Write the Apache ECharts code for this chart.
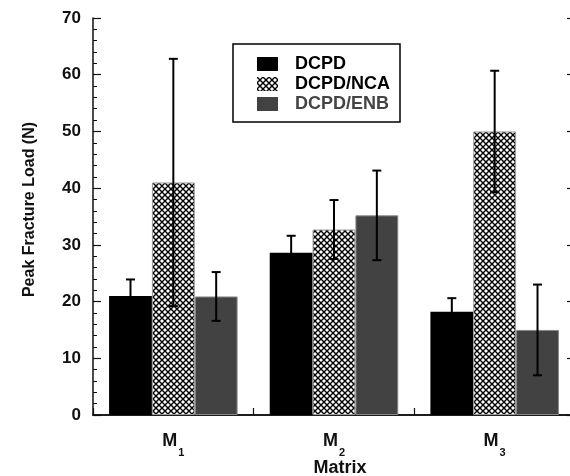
<!DOCTYPE html>
<html><head><meta charset="utf-8">
<script src="https://cdn.jsdelivr.net/npm/echarts@6/dist/echarts.min.js"></script>
<style>html,body{margin:0;padding:0;background:#fff;overflow:hidden}#c{width:570px;height:476px}</style>
</head><body><div id="c"></div>
<script>
// ---- data ----
const categorySubs = ['1', '2', '3'];            // M1, M2, M3
const seriesNames = ['DCPD', 'DCPD/NCA', 'DCPD/ENB'];
const dcpd    = [21.0, 28.6, 18.2];
const dcpdErr = [2.9, 3.0, 2.4];
const nca     = [41.0, 32.7, 50.0];
const ncaErr  = [21.8, 5.2, 10.7];
const enb     = [20.9, 35.2, 15.0];
const enbErr  = [4.3, 7.9, 8.0];
const yMin = 0, yMax = 70, yStep = 10;

// ---- style helpers ----
function hatch() {
  const c = document.createElement('canvas');
  c.width = 6; c.height = 6;
  const g = c.getContext('2d');
  g.fillStyle = '#fff'; g.fillRect(0, 0, 6, 6);
  g.strokeStyle = '#000'; g.lineWidth = 1.4;
  g.beginPath();
  g.moveTo(-1, -1); g.lineTo(7, 7);
  g.moveTo(7, -1); g.lineTo(-1, 7);
  g.stroke();
  return c;
}
const pattern = { image: hatch(), repeat: 'repeat' };
const gapFrac = 0.2;
const FONT = '"Liberation Sans", Arial, sans-serif';

const values = [dcpd, nca, enb];
const errs = [dcpdErr, ncaErr, enbErr];
const errData = [];
values.forEach((vals, s) => vals.forEach((v, i) => errData.push([i, v - errs[s][i], v + errs[s][i], s])));

const chart = echarts.init(document.getElementById('c'), null, { renderer: 'canvas' });
const yAxisBase = {
  type: 'value', min: yMin, max: yMax, interval: yStep,
  splitLine: { show: false },
  axisLine: { show: true, lineStyle: { color: '#111', width: 1.5 } },
  axisTick: { show: true, inside: true, length: 8, lineStyle: { color: '#111', width: 1.2 } },
  minorTick: { show: true, splitNumber: 5, length: 4, lineStyle: { color: '#111', width: 1 } },
  minorSplitLine: { show: false }
};
chart.setOption({
  animation: false,
  backgroundColor: '#fff',
  grid: { left: 93, top: 18, width: 482, height: 397, containLabel: false, outerBoundsMode: 'none' },
  legend: {
    left: 233, top: 44, orient: 'vertical',
    padding: [11, 10, 9, 24],
    icon: 'rect',
    itemWidth: 21, itemHeight: 14, itemGap: 2,
    borderColor: '#000', borderWidth: 1.5,
    itemStyle: { borderWidth: 0 },
    textStyle: { fontFamily: FONT, fontSize: 18, fontWeight: 'bold', color: '#000', padding: [0, 0, 0, 12] },
    data: [
      { name: seriesNames[0] },
      { name: seriesNames[1] },
      { name: seriesNames[2], textStyle: { color: '#444' } }
    ]
  },
  xAxis: [{
    type: 'category', data: categorySubs, position: 'bottom',
    name: 'Matrix', nameLocation: 'middle', nameGap: 44, nameMoveOverlap: false,
    nameTextStyle: { fontFamily: FONT, fontSize: 18, fontWeight: 'bold', color: '#111', padding: [0, 0, 0, 12] },
    axisLine: { lineStyle: { color: '#111', width: 1.5 } },
    axisTick: { show: true, inside: true, length: 7, alignWithLabel: false, lineStyle: { color: '#111', width: 1.2 } },
    axisLabel: {
      margin: 9,
      formatter: v => '{m|M}{s|' + v + '}',
      rich: {
        m: { fontFamily: FONT, fontSize: 18, fontWeight: 'bold', color: '#111', verticalAlign: 'middle', lineHeight: 34 },
        s: { fontFamily: FONT, fontSize: 11, fontWeight: 'bold', color: '#111', verticalAlign: 'bottom', lineHeight: 11, padding: [0, 0, 0, 1] }
      }
    }
  }, {
    type: 'category', data: categorySubs, position: 'top',
    axisLine: { show: true, lineStyle: { color: '#111', width: 1.5 } },
    axisTick: { show: false }, axisLabel: { show: false }
  }],
  yAxis: [Object.assign({}, yAxisBase, {
    position: 'left',
    name: 'Peak Fracture Load (N)', nameLocation: 'middle', nameGap: 55,
    nameTextStyle: { fontFamily: FONT, fontSize: 16, fontWeight: 'bold', color: '#111', padding: [0, 0, 0, 14] },
    axisLabel: { fontFamily: FONT, fontSize: 17, fontWeight: 'bold', color: '#111', margin: 12 }
  }), Object.assign({}, yAxisBase, {
    position: 'right', axisLabel: { show: false }
  })],
  series: [
    { name: seriesNames[0], type: 'bar', data: dcpd, barGap: '0%', barCategoryGap: (gapFrac * 100) + '%',
      itemStyle: { color: '#000' } },
    { name: seriesNames[1], type: 'bar', data: nca, barGap: '0%', barCategoryGap: (gapFrac * 100) + '%',
      itemStyle: { color: pattern, borderColor: '#999', borderWidth: 1 } },
    { name: seriesNames[2], type: 'bar', data: enb, barGap: '0%', barCategoryGap: (gapFrac * 100) + '%',
      itemStyle: { color: '#424242', borderColor: '#888', borderWidth: 1 } },
    { type: 'custom', data: errData, z: 10,
      encode: { x: 0, y: [1, 2] },
      renderItem: (params, api) => {
        const ci = api.value(0), lo = api.value(1), hi = api.value(2), s = api.value(3);
        const band = api.size([1, 0])[0];
        const bw = band * (1 - gapFrac) / 3;
        const cx = api.coord([ci, 0])[0] + (s - 1) * bw;
        const yLo = api.coord([ci, lo])[1], yHi = api.coord([ci, hi])[1];
        const hw = 4.5;
        const st = { stroke: '#000', lineWidth: 2 };
        return { type: 'group', children: [
          { type: 'line', shape: { x1: cx, y1: yLo, x2: cx, y2: yHi }, style: st },
          { type: 'line', shape: { x1: cx - hw, y1: yHi, x2: cx + hw, y2: yHi }, style: st },
          { type: 'line', shape: { x1: cx - hw, y1: yLo, x2: cx + hw, y2: yLo }, style: st }
        ] };
      }
    }
  ]
});
</script>
</body></html>
